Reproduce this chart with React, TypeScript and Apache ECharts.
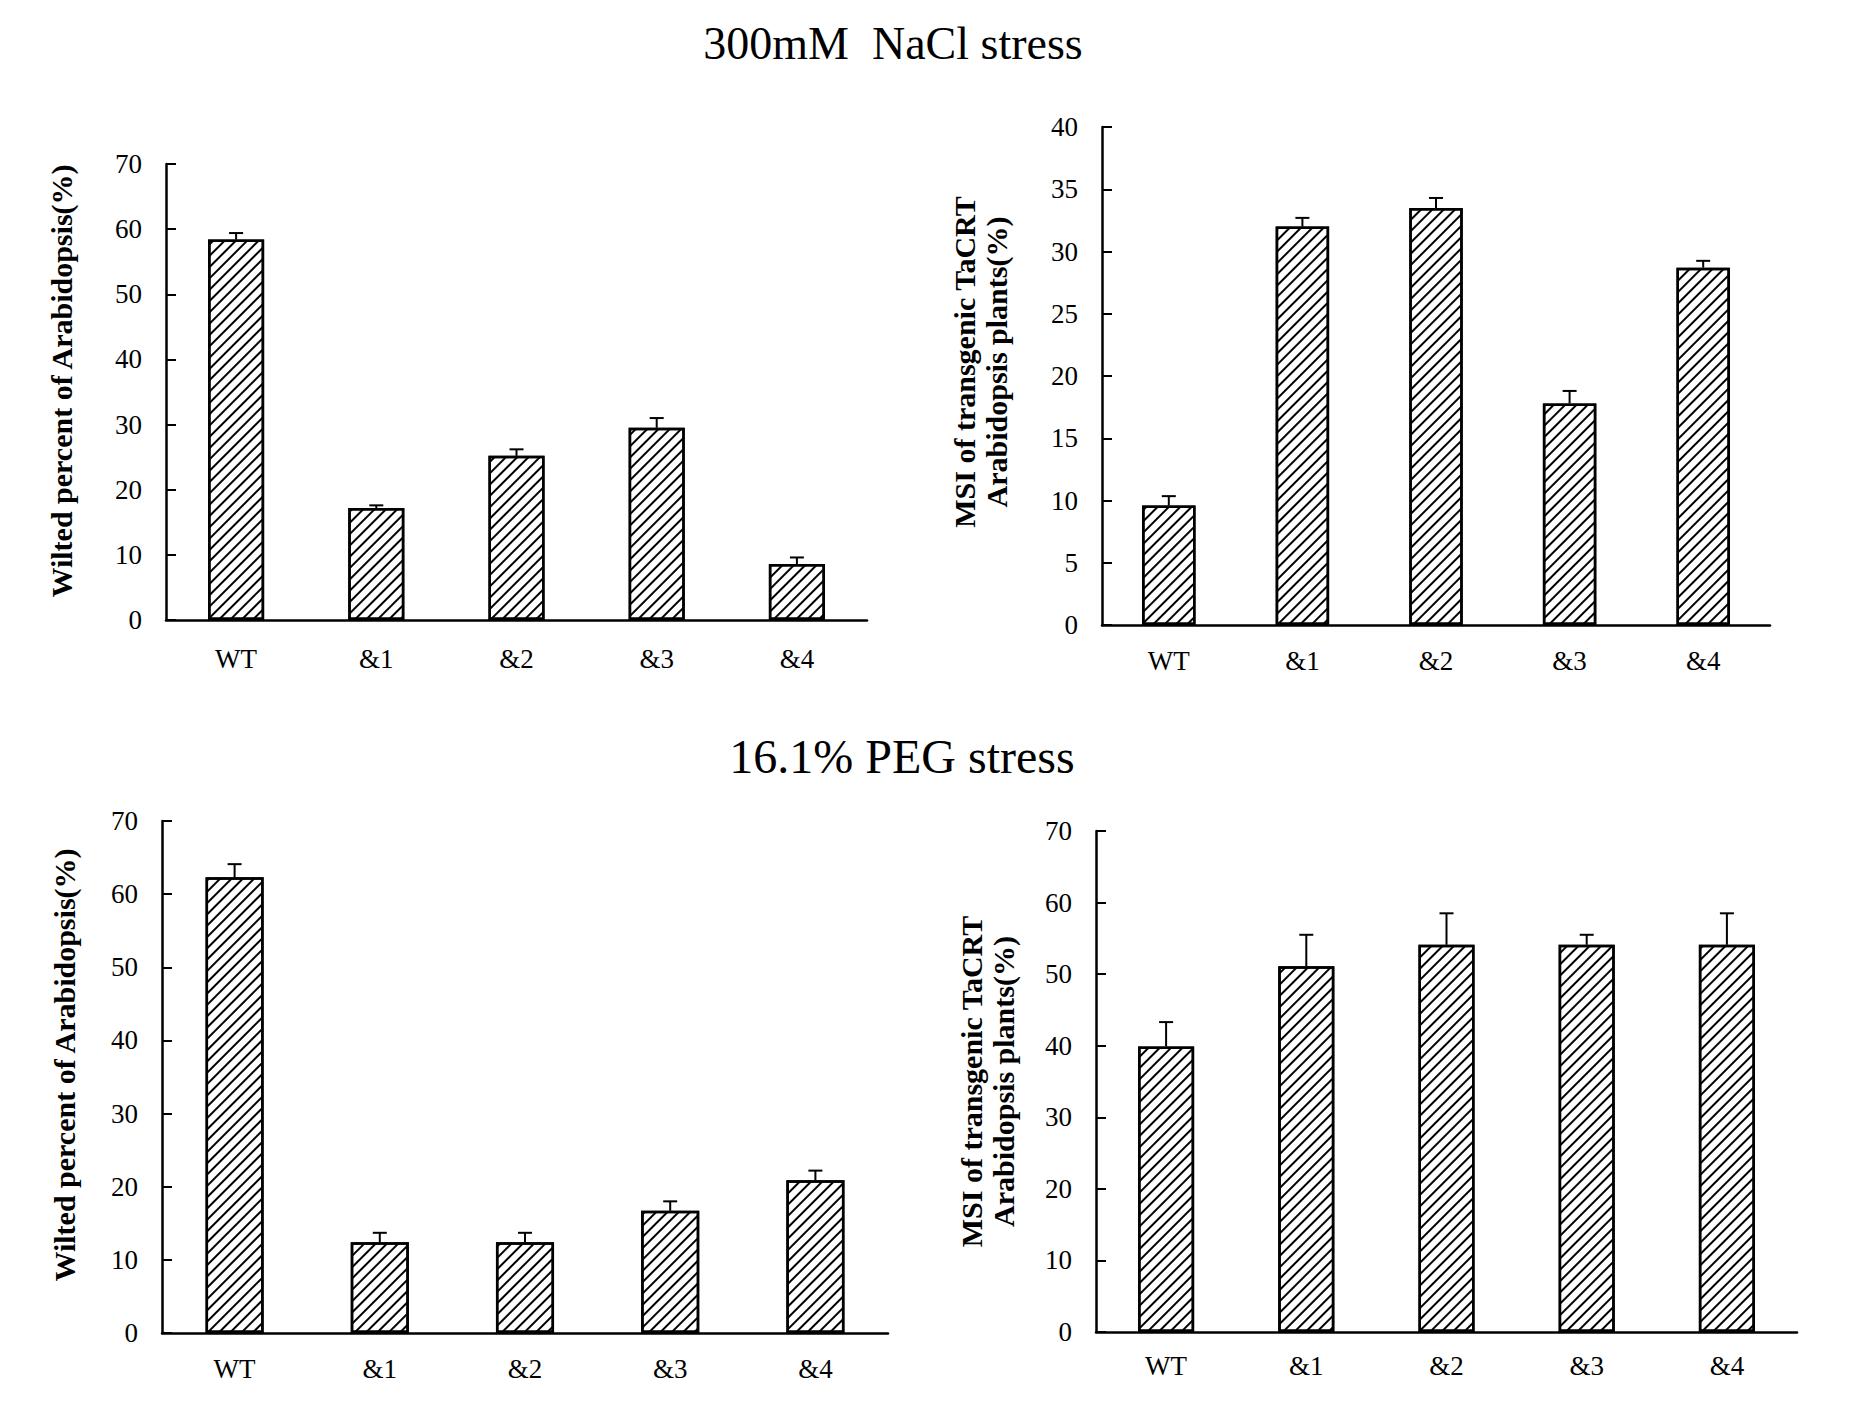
import React, { useEffect, useRef } from "react";
import * as echarts from "echarts";

const categories = ["WT", "&1", "&2", "&3", "&4"];

const naclWilted = [58.4, 17.2, 25.2, 29.5, 8.6];
const naclWiltedErr = [1.0, 0.4, 1.0, 1.5, 1.0];
const naclMsi = [9.6, 32.0, 33.5, 17.8, 28.7];
const naclMsiErr = [0.75, 0.7, 0.8, 1.0, 0.55];
const pegWilted = [62.3, 12.4, 12.4, 16.7, 20.9];
const pegWiltedErr = [1.8, 1.3, 1.3, 1.3, 1.3];
const pegMsi = [39.9, 51.1, 54.1, 54.1, 54.1];
const pegMsiErr = [3.4, 4.4, 4.4, 1.4, 4.4];

const titles = ["300mM  NaCl stress", "16.1% PEG stress"];
const wiltedName = "Wilted percent of Arabidopsis(%)";
const msiName = "MSI of transgenic TaCRT\nArabidopsis plants(%)";

const FONT = '"Liberation Serif", "Times New Roman", serif';

export default function App() {
  const ref = useRef<HTMLDivElement>(null);
  useEffect(() => {
    document.body.style.margin = "0";
    const chart = echarts.init(ref.current!, undefined, { renderer: "svg" });

    const grids = [
      { left: 166, top: 164, width: 701, height: 456 },
      { left: 1102, top: 127, width: 668, height: 498 },
      { left: 162, top: 821, width: 726, height: 512 },
      { left: 1096, top: 831, width: 701, height: 501 },
    ];
    const axisMax = [70, 40, 70, 70];
    const axisInt = [10, 5, 10, 10];
    const names = [wiltedName, msiName, wiltedName, msiName];
    const nameGaps = [89, 90, 82, 77];
    const namePads = [
      [0, 0, 0, 22],
      [0, 0, 0, 28],
      [0, 0, 0, 24],
      [0, 0, 0, 0],
    ];
    const labelMargins = [25, 22, 22, 20];
    const vals = [naclWilted, naclMsi, pegWilted, pegMsi];
    const errs = [naclWiltedErr, naclMsiErr, pegWiltedErr, pegMsiErr];

    const xAxis = grids.map((_, i) => ({
      type: "category",
      gridIndex: i,
      data: categories,
      axisLine: { lineStyle: { color: "#000", width: 2.5 } },
      axisTick: { inside: true, length: 6, lineStyle: { color: "#000", width: 2 } },
      axisLabel: { color: "#000", fontFamily: FONT, fontSize: 27, margin: labelMargins[i] },
    }));
    const yAxis = grids.map((_, i) => ({
      type: "value",
      gridIndex: i,
      min: 0,
      max: axisMax[i],
      interval: axisInt[i],
      name: names[i],
      nameLocation: "middle",
      nameRotate: 90,
      nameGap: nameGaps[i],
      nameTextStyle: {
        color: "#000",
        fontFamily: FONT,
        fontWeight: "bold",
        fontSize: 30,
        lineHeight: 32,
        padding: namePads[i],
      },
      splitLine: { show: false },
      axisLine: { show: true, lineStyle: { color: "#000", width: 2.5 } },
      axisTick: { show: true, inside: true, length: 10, lineStyle: { color: "#000", width: 2 } },
      axisLabel: { color: "#000", fontFamily: FONT, fontSize: 27, margin: 24 },
    }));

    const series: any[] = [];
    grids.forEach((_, i) => {
      series.push({
        type: "bar",
        xAxisIndex: i,
        yAxisIndex: i,
        data: vals[i],
        barWidth: "40%",
        itemStyle: {
          color: "#fff",
          borderColor: "#000",
          borderWidth: 2.5,
          decal: {
            symbol: "rect",
            symbolSize: 1,
            dashArrayX: [1, 0],
            dashArrayY: [2, 5.5],
            rotation: -Math.PI / 4,
            color: "#000",
            backgroundColor: "#fff",
          },
        },
        z: 2,
      });
      series.push({
        type: "custom",
        xAxisIndex: i,
        yAxisIndex: i,
        data: categories.map((_, j) => [j, vals[i][j], errs[i][j]]),
        encode: { x: 0, y: 1 },
        z: 5,
        renderItem: (params: any, api: any) => {
          const x = api.value(0);
          const v = api.value(1);
          const e = api.value(2);
          const base = api.coord([x, v]);
          const top = api.coord([x, v + e]);
          return {
            type: "group",
            children: [
              {
                type: "line",
                shape: { x1: base[0], y1: base[1], x2: top[0], y2: top[1] },
                style: { stroke: "#000", lineWidth: 2 },
              },
              {
                type: "line",
                shape: { x1: top[0] - 7, y1: top[1], x2: top[0] + 7, y2: top[1] },
                style: { stroke: "#000", lineWidth: 2 },
              },
            ],
          };
        },
      });
    });

    chart.setOption({
      animation: false,
      backgroundColor: "#fff",
      title: [
        {
          text: titles[0],
          left: 893,
          top: 20,
          textAlign: "center",
          padding: 0,
          textStyle: { color: "#000", fontFamily: FONT, fontWeight: "normal", fontSize: 46 },
        },
        {
          text: titles[1],
          left: 902,
          top: 732,
          textAlign: "center",
          padding: 0,
          textStyle: { color: "#000", fontFamily: FONT, fontWeight: "normal", fontSize: 48 },
        },
      ],
      grid: grids,
      xAxis,
      yAxis,
      series,
    });
    return () => chart.dispose();
  }, []);
  return <div ref={ref} style={{ width: 1850, height: 1405 }} />;
}
